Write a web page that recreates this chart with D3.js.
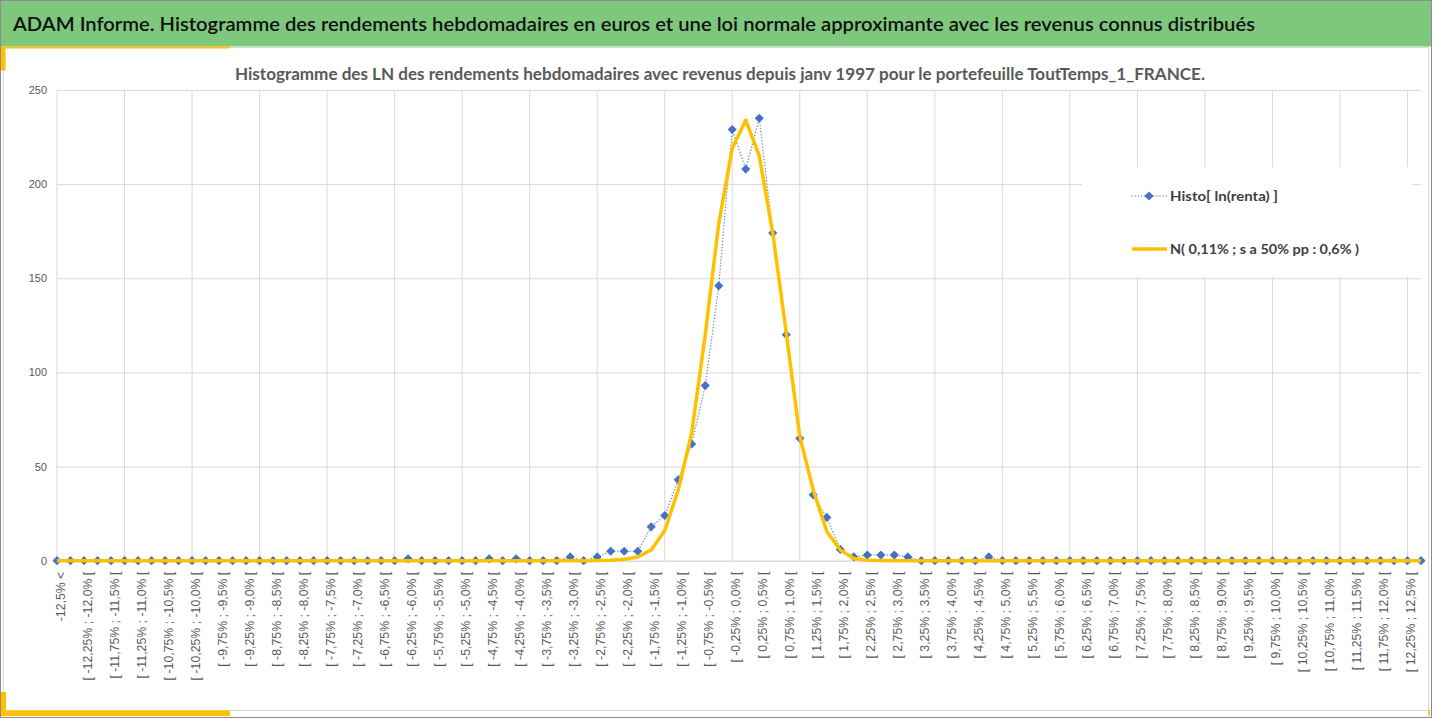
<!DOCTYPE html>
<html>
<head>
<meta charset="utf-8">
<script src="https://cdn.jsdelivr.net/npm/d3@7"></script>
<style>
  body { margin: 0; background: #ffffff; }
  #wrapper svg { display: block; }
</style>
</head>
<body>
<div id="wrapper"></div>
<script>
const categories = [
  "-12,5% <",
  "[ -12,5% ; -12,25% [", "[ -12,25% ; -12,0% [", "[ -12,0% ; -11,75% [", "[ -11,75% ; -11,5% [",
  "[ -11,5% ; -11,25% [", "[ -11,25% ; -11,0% [", "[ -11,0% ; -10,75% [", "[ -10,75% ; -10,5% [",
  "[ -10,5% ; -10,25% [", "[ -10,25% ; -10,0% [", "[ -10,0% ; -9,75% [", "[ -9,75% ; -9,5% [",
  "[ -9,5% ; -9,25% [", "[ -9,25% ; -9,0% [", "[ -9,0% ; -8,75% [", "[ -8,75% ; -8,5% [",
  "[ -8,5% ; -8,25% [", "[ -8,25% ; -8,0% [", "[ -8,0% ; -7,75% [", "[ -7,75% ; -7,5% [",
  "[ -7,5% ; -7,25% [", "[ -7,25% ; -7,0% [", "[ -7,0% ; -6,75% [", "[ -6,75% ; -6,5% [",
  "[ -6,5% ; -6,25% [", "[ -6,25% ; -6,0% [", "[ -6,0% ; -5,75% [", "[ -5,75% ; -5,5% [",
  "[ -5,5% ; -5,25% [", "[ -5,25% ; -5,0% [", "[ -5,0% ; -4,75% [", "[ -4,75% ; -4,5% [",
  "[ -4,5% ; -4,25% [", "[ -4,25% ; -4,0% [", "[ -4,0% ; -3,75% [", "[ -3,75% ; -3,5% [",
  "[ -3,5% ; -3,25% [", "[ -3,25% ; -3,0% [", "[ -3,0% ; -2,75% [", "[ -2,75% ; -2,5% [",
  "[ -2,5% ; -2,25% [", "[ -2,25% ; -2,0% [", "[ -2,0% ; -1,75% [", "[ -1,75% ; -1,5% [",
  "[ -1,5% ; -1,25% [", "[ -1,25% ; -1,0% [", "[ -1,0% ; -0,75% [", "[ -0,75% ; -0,5% [",
  "[ -0,5% ; -0,25% [", "[ -0,25% ; 0,0% [", "[ 0,0% ; 0,25% [", "[ 0,25% ; 0,5% [",
  "[ 0,5% ; 0,75% [", "[ 0,75% ; 1,0% [", "[ 1,0% ; 1,25% [", "[ 1,25% ; 1,5% [",
  "[ 1,5% ; 1,75% [", "[ 1,75% ; 2,0% [", "[ 2,0% ; 2,25% [", "[ 2,25% ; 2,5% [",
  "[ 2,5% ; 2,75% [", "[ 2,75% ; 3,0% [", "[ 3,0% ; 3,25% [", "[ 3,25% ; 3,5% [",
  "[ 3,5% ; 3,75% [", "[ 3,75% ; 4,0% [", "[ 4,0% ; 4,25% [", "[ 4,25% ; 4,5% [",
  "[ 4,5% ; 4,75% [", "[ 4,75% ; 5,0% [", "[ 5,0% ; 5,25% [", "[ 5,25% ; 5,5% [",
  "[ 5,5% ; 5,75% [", "[ 5,75% ; 6,0% [", "[ 6,0% ; 6,25% [", "[ 6,25% ; 6,5% [",
  "[ 6,5% ; 6,75% [", "[ 6,75% ; 7,0% [", "[ 7,0% ; 7,25% [", "[ 7,25% ; 7,5% [",
  "[ 7,5% ; 7,75% [", "[ 7,75% ; 8,0% [", "[ 8,0% ; 8,25% [", "[ 8,25% ; 8,5% [",
  "[ 8,5% ; 8,75% [", "[ 8,75% ; 9,0% [", "[ 9,0% ; 9,25% [", "[ 9,25% ; 9,5% [",
  "[ 9,5% ; 9,75% [", "[ 9,75% ; 10,0% [", "[ 10,0% ; 10,25% [", "[ 10,25% ; 10,5% [",
  "[ 10,5% ; 10,75% [", "[ 10,75% ; 11,0% [", "[ 11,0% ; 11,25% [", "[ 11,25% ; 11,5% [",
  "[ 11,5% ; 11,75% [", "[ 11,75% ; 12,0% [", "[ 12,0% ; 12,25% [", "[ 12,25% ; 12,5% [",
  "12,5% <="
]

// weekly counts per bin (index matches categories)
const histoValues = [
  0, 0, 0, 0, 0, 0, 0, 0, 0, 0,
  0, 0, 0, 0, 0, 0, 0, 0, 0, 0,
  0, 0, 0, 0, 0, 0, 1, 0, 0, 0,
  0, 0, 1, 0, 1, 0, 0, 0, 2, 0,
  2, 5, 5, 5, 18, 24, 43, 62, 93, 146,
  229, 208, 235, 174, 120, 65, 35, 23, 6, 2,
  3, 3, 3, 2, 0, 0, 0, 0, 0, 2,
  0, 0, 0, 0, 0, 0, 0, 0, 0, 0,
  0, 0, 0, 0, 0, 0, 0, 0, 0, 0,
  0, 0, 0, 0, 0, 0, 0, 0, 0, 0,
  0, 0
]

// approximating normal law
const normalValues = [
  0, 0, 0, 0, 0, 0, 0, 0, 0, 0,
  0, 0, 0, 0, 0, 0, 0, 0, 0, 0,
  0, 0, 0, 0, 0, 0, 0, 0, 0, 0,
  0, 0, 0, 0, 0, 0, 0, 0, 0, 0,
  0.1, 0.3, 0.8, 2, 5.7, 16, 37.5, 68, 120, 179,
  219, 234, 215, 174, 121, 66, 37.5, 15.5, 5.7, 1.2,
  0.3, 0.1, 0, 0, 0, 0, 0, 0, 0, 0,
  0, 0, 0, 0, 0, 0, 0, 0, 0, 0,
  0, 0, 0, 0, 0, 0, 0, 0, 0, 0,
  0, 0, 0, 0, 0, 0, 0, 0, 0, 0,
  0, 0
]

const yTicks = [0, 50, 100, 150, 200, 250]

const headerTitle = "ADAM Informe. Histogramme des rendements hebdomadaires en euros et une loi normale approximante avec les revenus connus distribués"
const chartTitle = "Histogramme des LN des rendements hebdomadaires avec revenus depuis janv 1997 pour le portefeuille ToutTemps_1_FRANCE."
const seriesNames = ["Histo[ ln(renta) ]", "N( 0,11% ; s a 50% pp : 0,6% )"]

function drawChart() {

  // 1. Access data

  const dataset = categories.map((c, i) => ({
    category: c,
    histo: histoValues[i],
    normal: normalValues[i],
  }))
  const xAccessor = d => d.category
  const histoAccessor = d => d.histo
  const normalAccessor = d => d.normal

  // 2. Create chart dimensions

  let dimensions = {
    width: 1432,
    height: 718,
    margin: {
      top: 90,
      right: 11,
      bottom: 157.3,
      left: 57,
    },
  }
  dimensions.boundedWidth = dimensions.width - dimensions.margin.left - dimensions.margin.right
  dimensions.boundedHeight = dimensions.height - dimensions.margin.top - dimensions.margin.bottom

  // 3. Draw canvas

  const wrapper = d3.select("#wrapper")
    .append("svg")
      .attr("width", dimensions.width)
      .attr("height", dimensions.height)
      .style("font-family", "Lato, 'Open Sans', sans-serif")

  // frame + header band
  wrapper.append("rect")
      .attr("x", 0.5).attr("y", 0.5)
      .attr("width", dimensions.width - 1).attr("height", dimensions.height - 1)
      .attr("fill", "#ffffff")
      .attr("stroke", "#8c8c8c")
  wrapper.append("rect")
      .attr("x", 1).attr("y", 1)
      .attr("width", dimensions.width - 2).attr("height", 45.5)
      .attr("fill", "#7ec87d")
  wrapper.append("text")
      .attr("x", 13)
      .attr("y", 31)
      .attr("font-size", 20)
      .attr("font-weight", 600)
      .attr("fill", "#111111")
      .attr("textLength", 1242)
      .attr("lengthAdjust", "spacingAndGlyphs")
      .text(headerTitle)

  // panel border and golden corners
  wrapper.append("rect")
      .attr("x", 3.5).attr("y", 47.5)
      .attr("width", 1425).attr("height", 663)
      .attr("fill", "none")
      .attr("stroke", "#d9d9d9")
  const gold = "#ffc000"
  wrapper.append("rect").attr("x", 4).attr("y", 46.5).attr("width", 226).attr("height", 2).attr("fill", gold)
  wrapper.append("rect").attr("x", 1).attr("y", 46.5).attr("width", 4.5).attr("height", 24).attr("fill", gold)
  wrapper.append("rect").attr("x", 1).attr("y", 692).attr("width", 5).attr("height", 24).attr("fill", gold)
  wrapper.append("rect").attr("x", 1).attr("y", 710.5).attr("width", 229).attr("height", 5.5).attr("fill", gold)
  wrapper.append("rect").attr("x", 1428.5).attr("y", 710).attr("width", 1.5).attr("height", 6).attr("fill", gold)

  wrapper.append("text")
      .attr("x", 720)
      .attr("y", 80)
      .attr("text-anchor", "middle")
      .attr("font-size", 17)
      .attr("font-weight", 700)
      .attr("fill", "#595959")
      .attr("textLength", 970)
      .attr("lengthAdjust", "spacingAndGlyphs")
      .text(chartTitle)

  const bounds = wrapper.append("g")
    .style("transform", `translate(${dimensions.margin.left}px, ${dimensions.margin.top}px)`)

  // 4. Create scales

  const xScale = d3.scalePoint()
    .domain(categories)
    .range([0, dimensions.boundedWidth])

  const yScale = d3.scaleLinear()
    .domain([0, 250])
    .range([dimensions.boundedHeight, 0])

  // 5. Draw peripherals (gridlines first, under the data)

  const yAxisGenerator = d3.axisLeft()
    .scale(yScale)
    .tickValues(yTicks)
    .tickSize(-dimensions.boundedWidth)
    .tickPadding(10)

  const yAxis = bounds.append("g")
      .call(yAxisGenerator)
  yAxis.select(".domain").remove()
  yAxis.selectAll("line")
      .attr("stroke", "#d9d9d9")
  yAxis.selectAll("text")
      .attr("font-family", "'Liberation Sans', Arial, sans-serif")
      .attr("font-size", 11)
      .attr("fill", "#595959")

  const gridCategories = categories.filter((d, i) => i % 5 == 0)
  bounds.append("g")
    .selectAll("line")
    .data(gridCategories)
    .enter().append("line")
      .attr("x1", d => xScale(d))
      .attr("x2", d => xScale(d))
      .attr("y1", 0)
      .attr("y2", dimensions.boundedHeight)
      .attr("stroke", "#d9d9d9")

  const xAxisGenerator = d3.axisBottom()
    .scale(xScale)
    .tickValues(categories.filter((d, i) => i % 2 == 0 && i <= 100))
    .tickSize(0)

  const xAxis = bounds.append("g")
      .call(xAxisGenerator)
      .style("transform", `translateY(${dimensions.boundedHeight}px)`)
  xAxis.select(".domain")
      .attr("stroke", "#d9d9d9")
  xAxis.selectAll("text")
      .attr("transform", "rotate(-90)")
      .attr("text-anchor", "end")
      .attr("x", -11)
      .attr("y", 3)
      .attr("dy", "0.35em")
      .attr("font-family", "'Liberation Sans', Arial, sans-serif")
      .attr("font-size", 12.3)
      .attr("fill", "#595959")

  // 6. Draw data

  const normalLine = d3.line()
    .x(d => xScale(xAccessor(d)))
    .y(d => yScale(normalAccessor(d)))

  const histoLine = d3.line()
    .x(d => xScale(xAccessor(d)))
    .y(d => yScale(histoAccessor(d)))

  bounds.append("path")
      .attr("d", histoLine(dataset))
      .attr("fill", "none")
      .attr("stroke", "#8497b0")
      .attr("stroke-width", 1.5)
      .attr("stroke-dasharray", "0.1 3")
      .attr("stroke-linecap", "round")

  const diamond = d3.symbol(d3.symbolSquare, 42)

  bounds.selectAll(".dot")
    .data(dataset)
    .enter().append("path")
      .attr("class", "dot")
      .attr("d", diamond)
      .attr("transform", d => `translate(${xScale(xAccessor(d))}, ${yScale(histoAccessor(d))}) rotate(45)`)
      .attr("fill", "#4472c4")

  bounds.append("path")
      .attr("d", normalLine(dataset))
      .attr("fill", "none")
      .attr("stroke", gold)
      .attr("stroke-width", 3.5)
      .attr("stroke-linejoin", "round")

  // 7. Legend

  const legend = wrapper.append("g")
  legend.append("rect")
      .attr("x", 1082).attr("y", 167)
      .attr("width", 330).attr("height", 110)
      .attr("fill", "#ffffff")

  legend.append("line")
      .attr("x1", 1132).attr("x2", 1167)
      .attr("y1", 196).attr("y2", 196)
      .attr("stroke", "#8497b0")
      .attr("stroke-width", 1.5)
      .attr("stroke-dasharray", "0.1 3")
      .attr("stroke-linecap", "round")
  legend.append("path")
      .attr("d", diamond)
      .attr("transform", "translate(1149, 196) rotate(45)")
      .attr("fill", "#4472c4")
  legend.append("line")
      .attr("x1", 1132).attr("x2", 1167)
      .attr("y1", 249).attr("y2", 249)
      .attr("stroke", gold)
      .attr("stroke-width", 3.5)

  const legendWidths = [108, 189]
  legend.selectAll(".legend-label")
    .data(seriesNames)
    .enter().append("text")
      .attr("class", "legend-label")
      .attr("x", 1170)
      .attr("y", (d, i) => i == 0 ? 201 : 254)
      .attr("font-size", 14)
      .attr("font-weight", 700)
      .attr("fill", "#404040")
      .attr("textLength", (d, i) => legendWidths[i])
      .attr("lengthAdjust", "spacingAndGlyphs")
      .text(d => d)
}
drawChart()
</script>
</body>
</html>
